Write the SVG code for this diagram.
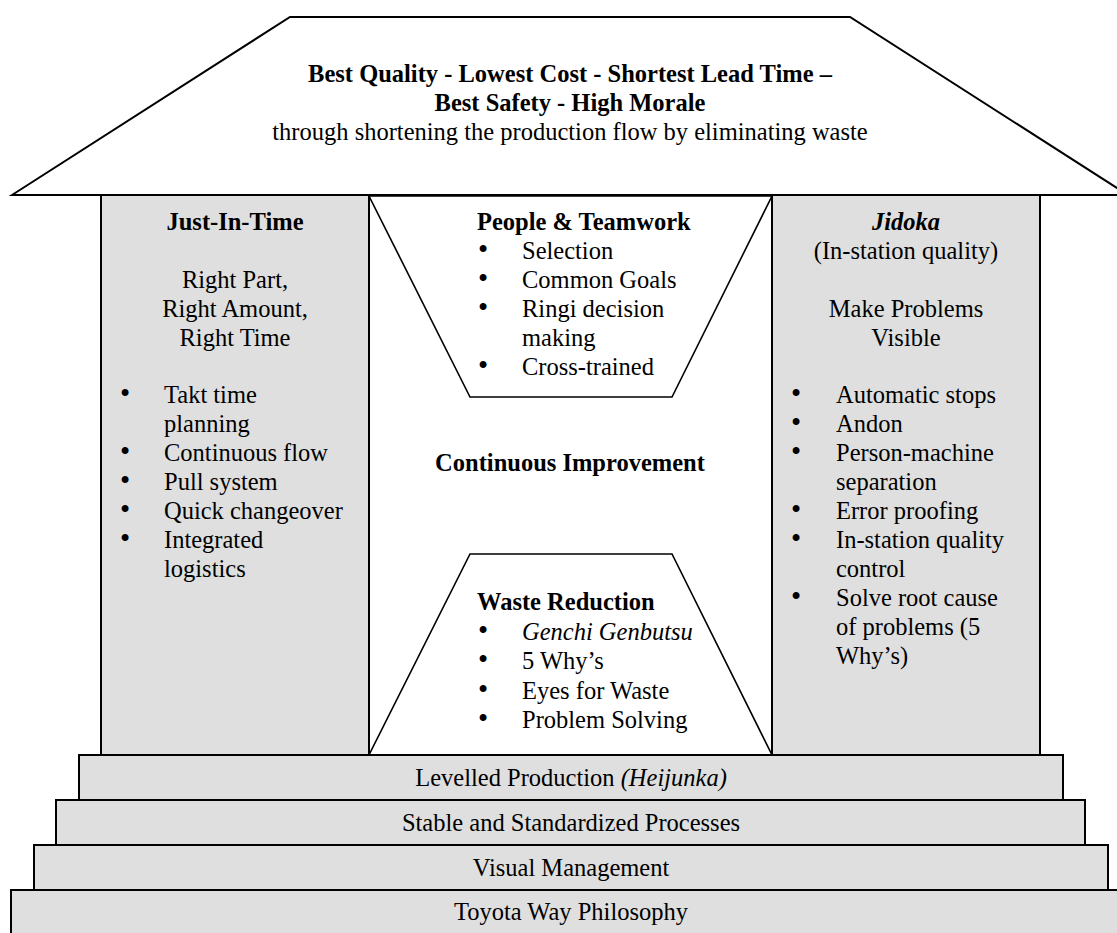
<svg xmlns="http://www.w3.org/2000/svg" width="1117" height="933" viewBox="0 0 1117 933">
<style>
text{font-family:'Liberation Serif','Times New Roman','DejaVu Serif',serif;font-size:24.5px;fill:#000}
.b{font-weight:bold}
.i{font-style:italic}
.m{text-anchor:middle}
.d{text-anchor:middle;font-size:29px}
.g{fill:#dfdfdf;stroke:#000;stroke-width:2}
.w{fill:#fff;stroke:#000;stroke-width:2}
.tr{fill:#fff;stroke:#000;stroke-width:1.6}
</style>
<rect width="1117" height="933" fill="#fff"/>
<g id="just-in-time">
<rect class="g" x="101" y="195" width="268" height="560"/>
<text class="b m" x="235" y="230">Just-In-Time</text>
<text class="m" x="235" y="288">Right Part,</text>
<text class="m" x="235" y="317">Right Amount,</text>
<text class="m" x="235" y="346">Right Time</text>
<text class="d" x="125" y="403">•</text><text x="164" y="403">Takt time</text>
<text x="164" y="432">planning</text>
<text class="d" x="125" y="461">•</text><text x="164" y="461">Continuous flow</text>
<text class="d" x="125" y="490">•</text><text x="164" y="490">Pull system</text>
<text class="d" x="125" y="519">•</text><text x="164" y="519">Quick changeover</text>
<text class="d" x="125" y="548">•</text><text x="164" y="548">Integrated</text>
<text x="164" y="577">logistics</text>
</g>
<g id="jidoka">
<rect class="g" x="772" y="195" width="268" height="560"/>
<text class="b i m" x="906" y="230">Jidoka</text>
<text class="m" x="906" y="259">(In-station quality)</text>
<text class="m" x="906" y="317">Make Problems</text>
<text class="m" x="906" y="346">Visible</text>
<text class="d" x="796" y="403">•</text><text x="836" y="403">Automatic stops</text>
<text class="d" x="796" y="432">•</text><text x="836" y="432">Andon</text>
<text class="d" x="796" y="461">•</text><text x="836" y="461">Person-machine</text>
<text x="836" y="490">separation</text>
<text class="d" x="796" y="519">•</text><text x="836" y="519">Error proofing</text>
<text class="d" x="796" y="548">•</text><text x="836" y="548">In-station quality</text>
<text x="836" y="577">control</text>
<text class="d" x="796" y="606">•</text><text x="836" y="606">Solve root cause</text>
<text x="836" y="635">of problems (5</text>
<text x="836" y="664">Why’s)</text>
</g>
<g id="people-teamwork">
<polygon class="tr" points="369,196 772,196 672,397 470,397"/>
<text class="b" x="477" y="230">People &amp; Teamwork</text>
<text class="d" x="483" y="259">•</text><text x="522" y="259">Selection</text>
<text class="d" x="483" y="288">•</text><text x="522" y="288">Common Goals</text>
<text class="d" x="483" y="317">•</text><text x="522" y="317">Ringi decision</text>
<text x="522" y="346">making</text>
<text class="d" x="483" y="375">•</text><text x="522" y="375">Cross-trained</text>
</g>
<g id="continuous-improvement">
<text class="b m" x="570" y="471">Continuous Improvement</text>
</g>
<g id="waste-reduction">
<polygon class="tr" points="470,554 672,554 772,755 369,755"/>
<text class="b" x="477" y="610">Waste Reduction</text>
<text class="d" x="483" y="640">•</text><text class="i" x="522" y="640">Genchi Genbutsu</text>
<text class="d" x="483" y="669">•</text><text x="522" y="669">5 Why’s</text>
<text class="d" x="483" y="699">•</text><text x="522" y="699">Eyes for Waste</text>
<text class="d" x="483" y="728">•</text><text x="522" y="728">Problem Solving</text>
</g>
<g id="roof">
<polygon class="w" points="12,195 290,17 850,17 1128,195"/>
<text class="b m" x="570" y="82">Best Quality - Lowest Cost - Shortest Lead Time –</text>
<text class="b m" x="570" y="111">Best Safety - High Morale</text>
<text class="m" x="570" y="140">through shortening the production flow by eliminating waste</text>
</g>
<g id="heijunka">
<rect class="g" x="79" y="755" width="984" height="45"/>
<text class="m" x="571" y="786">Levelled Production <tspan class="i">(Heijunka)</tspan></text>
</g>
<g id="standardized-processes">
<rect class="g" x="56" y="800" width="1029" height="45"/>
<text class="m" x="571" y="831">Stable and Standardized Processes</text>
</g>
<g id="visual-management">
<rect class="g" x="34" y="845" width="1074" height="45"/>
<text class="m" x="571" y="876">Visual Management</text>
</g>
<g id="toyota-way">
<rect class="g" x="11" y="890" width="1120" height="60"/>
<text class="m" x="571" y="920">Toyota Way Philosophy</text>
</g>
</svg>
